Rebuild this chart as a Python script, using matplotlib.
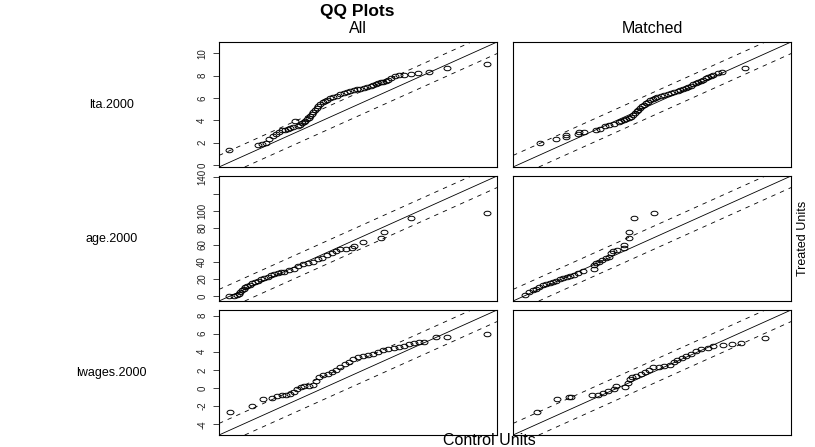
import matplotlib
matplotlib.use('Agg')
import matplotlib.pyplot as plt
from matplotlib.path import Path
from matplotlib.markers import MarkerStyle
from matplotlib.transforms import Affine2D

plt.rcParams['font.family'] = ['Liberation Sans', 'DejaVu Sans']
plt.rcParams['lines.scale_dashes'] = False

# variable names and the overall range of each (treated and control together)
var_names = ['lta.2000', 'age.2000', 'lwages.2000']
var_ranges = [(0.24, 10.6), (-0.5, 135.4), (-4.68, 8.1)]
var_ticks = [[0, 2, 4, 6, 8, 10], [0, 20, 40, 60, 80, 100, 120, 140], [-4, -2, 0, 2, 4, 6, 8]]
var_ticklabels = [['0', '2', '4', '6', '8', '10'],
                  ['0', '20', '40', '60', '80', '100', '', '140'],
                  ['-4', '-2', '0', '2', '4', '6', '8']]
col_titles = ['All', 'Matched']

# quantiles: x = control units, y = treated units
lta_all_x = [0.24, 1.39, 1.57, 1.73, 1.84, 1.98, 2.11, 2.25, 2.38, 2.48, 2.59, 2.69, 2.79, 2.9, 3.0,
             3.07, 3.15, 3.23, 3.3, 3.37, 3.43, 3.48, 3.55, 3.61, 3.68, 3.75, 3.83, 3.91, 4.0, 4.09,
             4.19, 4.29, 4.43, 4.57, 4.7, 4.84, 4.98, 5.11, 5.25, 5.39, 5.52, 5.66, 5.8, 5.93, 6.04,
             6.14, 6.24, 6.34, 6.44, 6.54, 6.64, 6.75, 6.89, 7.09, 7.29, 7.57, 7.84, 8.29, 9.0, 10.6]
lta_all_y = [1.39, 1.84, 1.87, 1.99, 2.35, 2.59, 2.8, 2.95, 3.1, 3.18, 3.25, 3.33, 3.4, 3.9, 3.5,
             3.61, 3.73, 3.85, 3.97, 4.09, 4.25, 4.4, 4.58, 4.76, 4.94, 5.12, 5.3, 5.48, 5.62, 5.75,
             5.86, 5.96, 6.08, 6.2, 6.32, 6.44, 6.53, 6.62, 6.7, 6.77, 6.85, 6.93, 7.02, 7.11, 7.2,
             7.29, 7.35, 7.41, 7.47, 7.53, 7.65, 7.83, 8.01, 8.07, 8.07, 8.13, 8.25, 8.31, 8.73, 9.03]
lta_mat_x = [0.91, 1.56, 1.94, 1.97, 2.45, 2.49, 2.68, 3.17, 3.33, 3.53, 3.67, 3.87, 4.08, 4.18,
             4.28, 4.39, 4.49, 4.58, 4.66, 4.73, 4.8, 4.87, 4.93, 5.02, 5.1, 5.18, 5.26, 5.35, 5.44,
             5.54, 5.64, 5.78, 5.91, 6.05, 6.18, 6.32, 6.46, 6.56, 6.66, 6.77, 6.87, 6.97, 7.07, 7.17,
             7.27, 7.38, 7.48, 7.58, 7.68, 7.79, 7.89, 8.06, 8.25, 9.18]
lta_mat_y = [1.99, 2.35, 2.5, 2.71, 2.8, 2.92, 2.92, 3.1, 3.19, 3.49, 3.61, 3.7, 3.85, 3.92,
             4.0, 4.11, 4.22, 4.34, 4.46, 4.64, 4.82, 4.97, 5.12, 5.27, 5.42, 5.54, 5.66, 5.78, 5.9,
             5.99, 6.08, 6.17, 6.26, 6.33, 6.41, 6.52, 6.62, 6.71, 6.8, 6.91, 7.02, 7.12, 7.23, 7.35,
             7.47, 7.56, 7.65, 7.77, 7.89, 7.98, 8.07, 8.25, 8.31, 8.67]
age_all_x = [-0.5, 1.8, 3.6, 4.5, 5.4, 6.3, 7.1, 8.0, 8.9, 10.2, 11.6, 13.0, 14.5, 16.1, 17.9,
             19.7, 21.4, 23.2, 25.0, 26.8, 28.6, 30.9, 33.4, 35.7, 38.4, 41.1, 43.8, 46.1, 48.3,
             50.9, 53.6, 56.0, 58.1, 61.3, 64.3, 65.2, 70.2, 79.5, 81.3, 95.2, 135.4]
age_all_y = [0.0, 0.0, 0.8, 2.8, 4.7, 6.7, 8.7, 10.2, 11.8, 13.4, 15.0, 16.5, 18.1, 19.7, 21.3,
             22.8, 24.4, 26.0, 27.2, 27.6, 28.3, 29.9, 31.5, 35.4, 37.0, 38.2, 40.2, 43.3, 44.9,
             48.0, 50.8, 52.8, 54.7, 54.7, 55.9, 59.1, 63.0, 68.5, 75.6, 91.3, 97.2]
age_mat_x = [0.5, 2.7, 4.5, 6.3, 8.0, 9.8, 11.6, 13.4, 15.2, 17.0, 18.8, 20.5, 22.3, 24.1, 26.3,
             28.6, 30.9, 36.6, 36.6, 38.1, 39.3, 41.1, 42.9, 44.7, 45.9, 47.0, 48.8, 52.7, 52.7,
             55.4, 55.4, 57.7, 68.4]
age_mat_y = [1.6, 4.7, 6.7, 8.7, 10.6, 12.6, 14.2, 15.4, 16.5, 18.1, 19.7, 21.3, 22.8, 23.6, 25.2,
             27.2, 29.1, 31.5, 36.2, 38.2, 40.2, 42.1, 44.1, 46.1, 50.0, 52.8, 53.5, 55.9, 59.8,
             68.5, 75.6, 91.3, 97.2]
lwages_all_x = [-4.65, -3.53, -3.01, -2.55, -2.3, -2.08, -1.88, -1.68, -1.46, -1.3, -1.13, -0.96,
                -0.74, -0.54, -0.38, -0.21, -0.01, 0.21, 0.43, 0.63, 0.83, 1.05, 1.27, 1.47, 1.72,
                1.97, 2.22, 2.47, 2.72, 2.97, 3.22, 3.48, 3.73, 3.98, 4.23, 4.48, 4.73, 4.98, 5.57,
                6.12, 8.1]
lwages_all_y = [-2.61, -1.99, -1.16, -1.09, -0.91, -0.8, -0.72, -0.62, -0.43, -0.07, 0.14, 0.22,
                0.18, 0.29, 0.72, 1.27, 1.45, 1.59, 1.81, 2.03, 2.32, 2.61, 2.9, 3.19, 3.37,
                3.48, 3.62, 3.8, 3.99, 4.17, 4.28, 4.38, 4.53, 4.67, 4.82, 4.93, 5.07, 5.07, 5.62,
                5.62, 5.91]
lwages_mat_x = [-3.98, -3.02, -2.39, -2.3, -1.25, -0.96, -0.74, -0.46, -0.17, -0.07, 0.38, 0.5,
                0.6, 0.71, 0.93, 1.16, 1.38, 1.55, 1.77, 2.05, 2.3, 2.61, 2.81, 2.97, 3.18, 3.39,
                3.64, 3.89, 4.15, 4.48, 4.73, 5.23, 5.69, 6.12, 7.33]
lwages_mat_y = [-2.61, -1.16, -1.01, -0.94, -0.8, -0.72, -0.54, -0.36, -0.07, 0.18, 0.11, 0.58,
                0.94, 1.2, 1.38, 1.56, 1.74, 2.03, 2.28, 2.28, 2.46, 2.54, 2.83, 3.12, 3.3, 3.48,
                3.73, 4.09, 4.35, 4.46, 4.64, 4.71, 4.82, 5.0, 5.54]

panels = [[(lta_all_x, lta_all_y), (lta_mat_x, lta_mat_y)],
          [(age_all_x, age_all_y), (age_mat_x, age_mat_y)],
          [(lwages_all_x, lwages_all_y), (lwages_mat_x, lwages_mat_y)]]

# the reference is squashed vertically, so circles come out as flat ovals
oval = MarkerStyle(Path.unit_circle().transformed(Affine2D().scale(1.0, 0.65)))

fig, axes = plt.subplots(3, 2, figsize=(8.15, 4.47), dpi=100)
fig.subplots_adjust(left=0.2687, right=0.9706, top=0.906, bottom=0.0268, wspace=0.0576, hspace=0.072)

for i in range(3):
    lo, hi = var_ranges[i]
    d = hi - lo
    for j in range(2):
        ax = axes[i][j]
        x, y = panels[i][j]
        ax.plot(x, y, linestyle='none', marker=oval, markersize=5.0,
                markerfacecolor='none', markeredgecolor='black', markeredgewidth=0.7)
        ax.axline((0, 0), slope=1, color='black', lw=0.6)
        ax.axline((0, 0.1 * d), slope=1, color='black', lw=0.6, linestyle=(0, (3.2, 3.6)))
        ax.axline((0, -0.1 * d), slope=1, color='black', lw=0.6, linestyle=(0, (3.2, 3.6)))
        ax.set_xlim(lo - 0.04 * d, hi + 0.04 * d)
        ax.set_ylim(lo - 0.04 * d, hi + 0.04 * d)
        ax.set_xticks([])
        for s in ax.spines.values():
            s.set_linewidth(0.8)
        if j == 0:
            ax.set_yticks(var_ticks[i])
            ax.set_yticklabels(var_ticklabels[i], rotation=90, va='center')
            ax.tick_params(axis='y', length=4.5, width=0.6, labelsize=7, pad=4, colors='#222222')
        else:
            ax.set_yticks([])

fig.text(0.438, 0.975, 'QQ Plots', ha='center', va='center', fontsize=12.5, fontweight='bold')
for j in range(2):
    pos = axes[0][j].get_position()
    fig.text((pos.x0 + pos.x1) / 2, 0.937, col_titles[j], ha='center', va='center', fontsize=11.5)
for i in range(3):
    pos = axes[i][0].get_position()
    fig.text(0.137, (pos.y0 + pos.y1) / 2, var_names[i], ha='center', va='center', fontsize=9)

fig.text(0.985, 0.467, 'Treated Units', ha='center', va='center', rotation=90, fontsize=9)
fig.text(0.601, 0.014, 'Control Units', ha='center', va='center', fontsize=11.5)

fig.savefig('out.png', dpi=100)
